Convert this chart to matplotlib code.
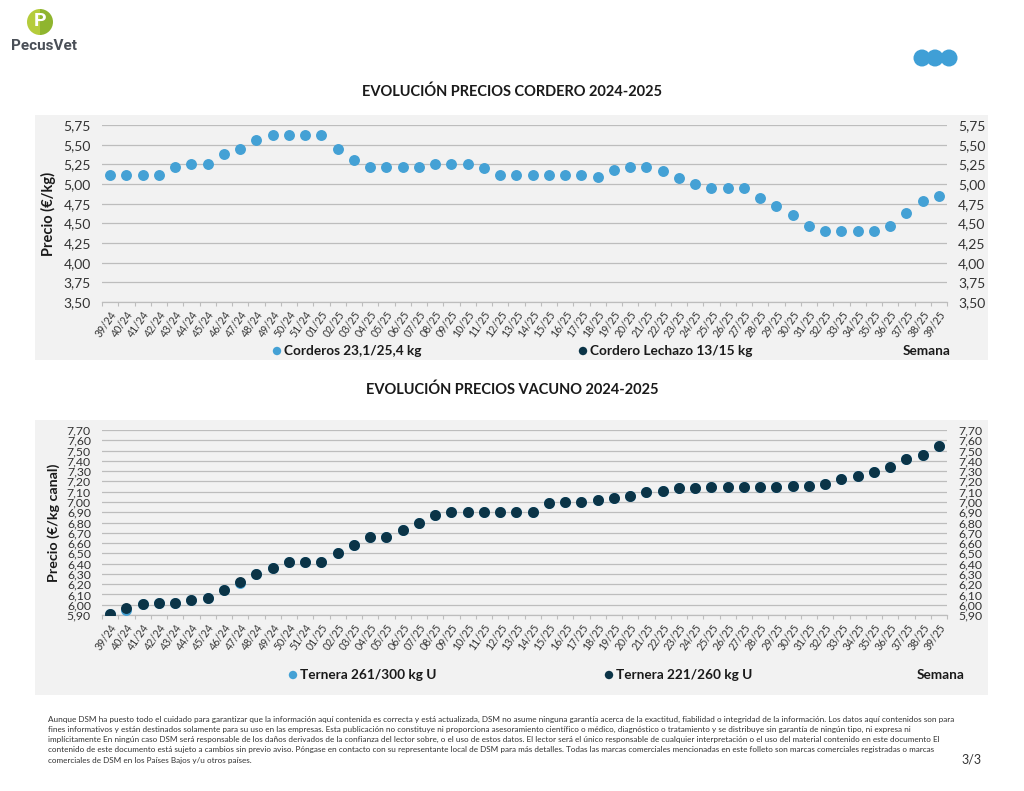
import matplotlib
matplotlib.use("Agg")
import matplotlib.pyplot as plt
import numpy as np
from matplotlib.patches import Rectangle, Circle, Wedge

plt.rcParams['font.family'] = ['Lato', 'DejaVu Sans']

W, H = 1024, 791

weeks = ["39/24", "40/24", "41/24", "42/24", "43/24", "44/24", "45/24", "46/24", "47/24",
         "48/24", "49/24", "50/24", "51/24", "01/25", "02/25", "03/25", "04/25", "05/25",
         "06/25", "07/25", "08/25", "09/25", "10/25", "11/25", "12/25", "13/25", "14/25",
         "15/25", "16/25", "17/25", "18/25", "19/25", "20/25", "21/25", "22/25", "23/25",
         "24/25", "25/25", "26/25", "27/25", "28/25", "29/25", "30/25", "31/25", "32/25",
         "33/25", "34/25", "35/25", "36/25", "37/25", "38/25", "39/25"]

corderos = [5.12, 5.12, 5.12, 5.12, 5.22, 5.25, 5.25, 5.38, 5.45, 5.56, 5.62, 5.62, 5.62,
            5.62, 5.44, 5.31, 5.22, 5.22, 5.22, 5.22, 5.26, 5.26, 5.26, 5.20, 5.11, 5.11,
            5.11, 5.11, 5.11, 5.11, 5.09, 5.18, 5.21, 5.21, 5.17, 5.08, 5.00, 4.95, 4.95,
            4.95, 4.82, 4.72, 4.60, 4.47, 4.40, 4.40, 4.40, 4.40, 4.46, 4.63, 4.78, 4.85]
lechazo = [np.nan] * len(weeks)

ternera_261 = [5.91, 5.95, 6.01, 6.02, 6.02, 6.05, 6.07, 6.14, 6.21, 6.30, 6.36, 6.42, 6.42,
               6.42, 6.50, 6.58, 6.66, 6.66, 6.73, 6.80, 6.87, 6.90, 6.90, 6.90, 6.90, 6.90,
               6.90, 6.99, 7.00, 7.00, 7.02, 7.04, 7.06, 7.10, 7.11, 7.14, 7.14, 7.15, 7.15,
               7.15, 7.15, 7.15, 7.16, 7.16, 7.17, 7.22, 7.25, 7.29, 7.34, 7.42, 7.46, 7.54]
ternera_221 = [5.91, 5.97, 6.01, 6.02, 6.02, 6.05, 6.07, 6.14, 6.22, 6.30, 6.36, 6.42, 6.42,
               6.42, 6.50, 6.58, 6.66, 6.66, 6.73, 6.80, 6.87, 6.90, 6.90, 6.90, 6.90, 6.90,
               6.90, 6.99, 7.00, 7.00, 7.02, 7.04, 7.06, 7.10, 7.11, 7.14, 7.14, 7.15, 7.15,
               7.15, 7.15, 7.15, 7.16, 7.16, 7.17, 7.22, 7.25, 7.29, 7.34, 7.42, 7.46, 7.54]

ticks1 = [3.50, 3.75, 4.00, 4.25, 4.50, 4.75, 5.00, 5.25, 5.50, 5.75]
ticks2 = [5.90, 6.00, 6.10, 6.20, 6.30, 6.40, 6.50, 6.60, 6.70, 6.80, 6.90, 7.00, 7.10,
          7.20, 7.30, 7.40, 7.50, 7.60, 7.70]

LIGHT = "#44a1d5"
DARK = "#0b3447"
GRID = "#bdbdbd"
PANEL = "#f2f2f2"
TXT = "#1a1a1a"

fig = plt.figure(figsize=(W / 100, H / 100), dpi=100)
fig.patch.set_facecolor("white")

# background overlay in pixel coordinates
bg = fig.add_axes([0, 0, 1, 1], zorder=-5)
bg.set_xlim(0, W)
bg.set_ylim(H, 0)
bg.axis("off")
for (x0, y0, x1, y1) in [(35, 115, 988, 360), (35, 420, 988, 695)]:
    bg.add_patch(Rectangle((x0, y0), x1 - x0, y1 - y0, facecolor=PANEL, edgecolor="none"))
# logo
bg.add_patch(Wedge((40, 22), 13, 90, 270, facecolor="#b5cc3c", edgecolor="none"))
bg.add_patch(Wedge((40, 22), 13, -90, 90, facecolor="#8fb52e", edgecolor="none"))
bg.text(40.5, 21, "P", ha="center", va="center", color="white", fontsize=14,
        fontweight="bold", family=["Roboto", "DejaVu Sans"])
bg.text(11, 46, "PecusVet", ha="left", va="center", color="#4a4f57", fontsize=11,
        fontweight="bold", family=["Liberation Sans Narrow", "Roboto", "DejaVu Sans"])
# three circles top right
for cx in [922, 935, 949]:
    bg.add_patch(Circle((cx, 58), 8.5, facecolor="#3f9fd6", edgecolor="none"))


def style_axes(ax, ticks, fmt, ysize):
    ax.set_facecolor("none")
    ax.set_xlim(-0.5, len(weeks) - 0.5)
    ax.set_ylim(ticks[0], ticks[-1])
    ax.set_yticks(ticks)
    ax.set_yticklabels([fmt.format(t).replace(".", ",") for t in ticks], fontsize=ysize,
                       color="#333333")
    ax.grid(axis="y", color=GRID, linewidth=0.9, zorder=0)
    ax.set_axisbelow(True)
    for s in ["top", "left", "right"]:
        ax.spines[s].set_visible(False)
    ax.spines["bottom"].set_color(GRID)
    ax.spines["bottom"].set_linewidth(0.9)
    ax.tick_params(axis="y", length=0, labelleft=True, labelright=True, pad=8)
    ax.set_xticks(range(len(weeks)))
    ax.set_xticklabels(weeks, rotation=55, ha="right", rotation_mode="anchor",
                       fontsize=7.6, color="#333333")
    ax.tick_params(axis="x", which="major", length=0, pad=5)
    ax.set_xticks(np.arange(-0.5, len(weeks), 1.0), minor=True)
    ax.tick_params(axis="x", which="minor", length=3, color=GRID, width=0.8)


def rect(x0, y0, x1, y1):
    return [x0 / W, 1 - y1 / H, (x1 - x0) / W, (y1 - y0) / H]


x = np.arange(len(weeks))

# chart 1
bg.text(W / 2, 92, "EVOLUCIÓN PRECIOS CORDERO 2024-2025", ha="center", va="center",
        fontsize=10.5, fontweight="bold", color=TXT)
ax1 = fig.add_axes(rect(102, 125, 947, 302), zorder=2)
style_axes(ax1, ticks1, "{:.2f}", 10)
ax1.scatter(x, corderos, s=62, color=LIGHT, zorder=3, linewidths=0)
ax1.scatter(x, lechazo, s=62, color=DARK, zorder=4, linewidths=0)
ax1.set_ylabel("Precio (€/kg)", fontsize=10.5, fontweight="bold", color=TXT, labelpad=5)

for mx, col, label in [(277, LIGHT, "Corderos 23,1/25,4 kg"),
                       (583, DARK, "Cordero Lechazo 13/15 kg")]:
    bg.add_patch(Circle((mx, 351), 4.2, facecolor=col, edgecolor="none"))
    bg.text(mx + 7, 351, label, ha="left", va="center", fontsize=9.8,
            fontweight="bold", color=TXT)
bg.text(951, 351, "Semana", ha="right", va="center", fontsize=9.8, fontweight="bold",
        color=TXT)

# chart 2
bg.text(W / 2, 390, "EVOLUCIÓN PRECIOS VACUNO 2024-2025", ha="center", va="center",
        fontsize=10.5, fontweight="bold", color=TXT)
ax2 = fig.add_axes(rect(102, 430, 947, 615), zorder=2)
style_axes(ax2, ticks2, "{:.2f}", 8.8)
ax2.scatter(x, ternera_261, s=62, color=LIGHT, zorder=3, linewidths=0)
ax2.scatter(x, ternera_221, s=62, color=DARK, zorder=4, linewidths=0)
ax2.set_ylabel("Precio (€/kg canal)", fontsize=10.3, fontweight="bold", color=TXT, labelpad=5)

for mx, col, label in [(293, LIGHT, "Ternera 261/300 kg U"),
                       (609, DARK, "Ternera 221/260 kg U")]:
    bg.add_patch(Circle((mx, 675), 4.2, facecolor=col, edgecolor="none"))
    bg.text(mx + 7, 675, label, ha="left", va="center", fontsize=9.8,
            fontweight="bold", color=TXT)
bg.text(965, 675, "Semana", ha="right", va="center", fontsize=9.8, fontweight="bold",
        color=TXT)

# footer
footer = [
    "Aunque DSM ha puesto todo el cuidado para garantizar que la información aquí contenida es correcta y está actualizada, DSM no asume ninguna garantía acerca de la exactitud, fiabilidad o integridad de la información. Los datos aquí contenidos son para",
    "fines informativos y están destinados solamente para su uso en las empresas. Esta publicación no constituye ni proporciona asesoramiento científico o médico, diagnóstico o tratamiento y se distribuye sin garantía de ningún tipo, ni expresa ni",
    "implícitamente En ningún caso DSM será responsable de los daños derivados de la confianza del lector sobre, o el uso de estos datos. El lector será el único responsable de cualquier interpretación o el uso del material contenido en este documento El",
    "contenido de este documento está sujeto a cambios sin previo aviso. Póngase en contacto con su representante local de DSM para más detalles. Todas las marcas comerciales mencionadas en este folleto son marcas comerciales registradas o marcas",
    "comerciales de DSM en los Países Bajos y/u otros países.",
]
for i, line in enumerate(footer):
    bg.text(48, 719 + i * 10.3, line, ha="left", va="center", fontsize=5.85,
            color="#333333")
bg.text(982, 760, "3/3", ha="right", va="center", fontsize=9, color="#333333")

fig.savefig("out.png", dpi=100)
